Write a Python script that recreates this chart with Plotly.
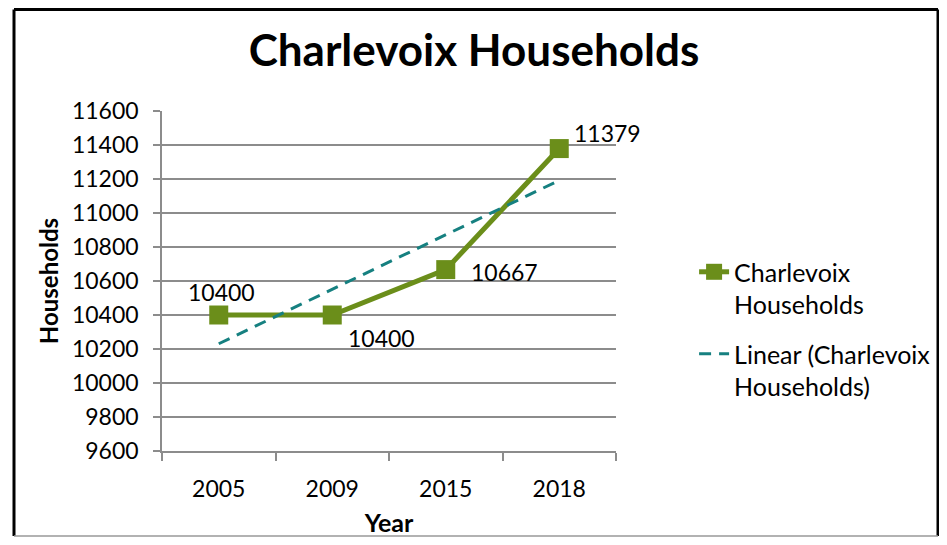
import numpy as np
import plotly.graph_objects as go

years = ["2005", "2009", "2015", "2018"]
households = [10400, 10400, 10667, 11379]
series_name = "Charlevoix<br>Households"
trend_name = "Linear (Charlevoix<br>Households)"
y_ticks = list(range(9600, 11601, 200))
y_tick_text = [str(v) for v in y_ticks]

GREEN = "#6B8E1A"
TEAL = "#168080"
GRID = "#8C8C8C"
FONT = "Lato"

# linear trend fitted on category index 1..n
idx = np.arange(1, len(households) + 1)
slope, intercept = np.polyfit(idx, households, 1)
trend = slope * idx + intercept

fig = go.Figure()
fig.add_trace(go.Scatter(
    x=years, y=households, name=series_name, mode="lines+markers",
    legendgroup="a",
    line=dict(color=GREEN, width=5),
    marker=dict(symbol="square", size=19, color=GREEN),
))
fig.add_trace(go.Scatter(
    x=years, y=trend, name=trend_name, mode="lines",
    legendgroup="b",
    line=dict(color=TEAL, width=3, dash="12px,8px"),
))

# data labels (shift in px relative to the point)
offsets = [(3, 23), (49, -23), (59, -2), (48, 16)]
for i, (yv, (dx, dy)) in enumerate(zip(households, offsets)):
    fig.add_annotation(x=i, y=yv, xref="x", yref="y", text=str(yv), showarrow=False,
                       xshift=dx, yshift=dy,
                       font=dict(family=FONT, size=23, color="black"))

W, H = 931, 529
fig.update_layout(
    width=W, height=H,
    margin=dict(l=154, r=W - 608, t=103, b=H - 443, autoexpand=False),
    paper_bgcolor="white", plot_bgcolor="white",
    font=dict(family=FONT, color="black"),
    title=dict(text="<b>Charlevoix Households</b>", x=466 / W, xref="container",
               xanchor="center", y=1 - 43 / H, yref="container", yanchor="middle",
               font=dict(family=FONT, size=44, color="black")),
    showlegend=True,
    legend=dict(x=1.172, y=0.594, xanchor="left", yanchor="top", valign="top",
                font=dict(family=FONT, size=25, color="black"),
                tracegroupgap=14, bgcolor="rgba(0,0,0,0)"),
)

fig.update_xaxes(
    type="category", range=[-0.5, 3.5], tickson="boundaries",
    ticks="outside", ticklen=8, tickcolor=GRID, tickwidth=1.5,
    showline=True, linecolor=GRID, linewidth=1.5, showgrid=False,
    tickfont=dict(family=FONT, size=23, color="black"),
    ticklabelstandoff=17, automargin=False,
    title=dict(text="<b>Year</b>", font=dict(family=FONT, size=25, color="black"), standoff=21),
)
fig.update_yaxes(
    range=[9600, 11600], tickvals=y_ticks, ticktext=y_tick_text,
    ticks="outside", ticklen=7, tickcolor=GRID, tickwidth=1.5,
    showline=True, linecolor=GRID, linewidth=1.5,
    showgrid=True, gridcolor=GRID, gridwidth=1.5, zeroline=False,
    tickfont=dict(family=FONT, size=23, color="black"),
    ticklabelstandoff=10, automargin=False,
    title=dict(text="<b>Households</b>", font=dict(family=FONT, size=24, color="black"), standoff=7),
)

# outer chart border
pw, ph = 454, 340
L, R = (6 - 154) / pw, (930 - 154) / pw
T, B = (443 - 1.5) / ph, (443 - 528) / ph
for x0, y0, x1, y1, c, w in [(L, B, L, T, "black", 3), (L, T, R, T, "black", 3),
                             (R, B, R, T, "black", 3), (L, B, R, B, "#999999", 1.5)]:
    fig.add_shape(type="line", xref="paper", yref="paper", x0=x0, y0=y0, x1=x1, y1=y1,
                  line=dict(color=c, width=w))

fig.write_html("out.html")
